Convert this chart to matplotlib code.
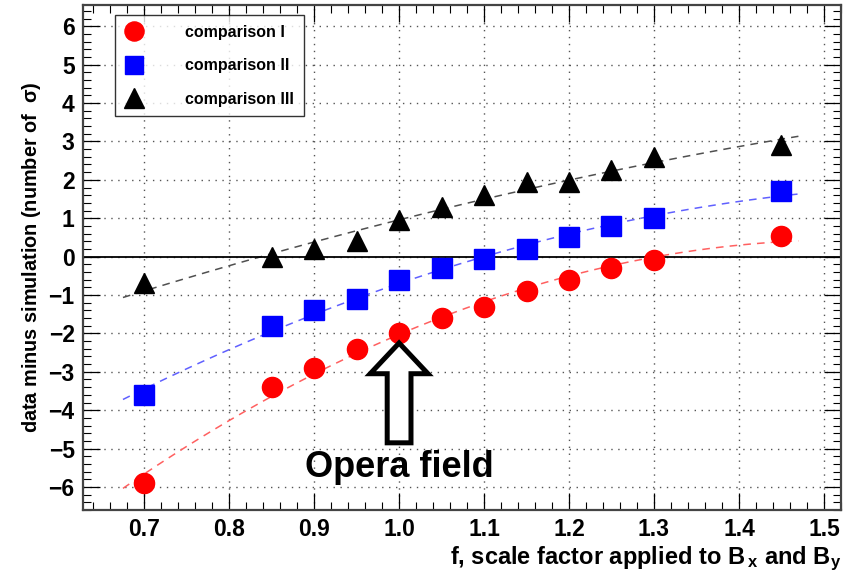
import numpy as np
import matplotlib
matplotlib.use("Agg")
import matplotlib.pyplot as plt
from matplotlib.ticker import MultipleLocator
from matplotlib.patches import FancyArrow

plt.rcParams['font.family'] = ['Liberation Sans', 'DejaVu Sans']
plt.rcParams['mathtext.fontset'] = 'custom'
plt.rcParams['mathtext.rm'] = 'Liberation Sans:bold'
plt.rcParams['mathtext.it'] = 'Liberation Sans:bold'
plt.rcParams['mathtext.bf'] = 'Liberation Sans:bold'

# scale factor f
f_vals = [0.70, 0.85, 0.90, 0.95, 1.00, 1.05, 1.10, 1.15, 1.20, 1.25, 1.30, 1.45]

# data minus simulation, in sigma
comp1 = [-5.9, -3.4, -2.9, -2.4, -2.0, -1.6, -1.3, -0.9, -0.6, -0.3, -0.1, 0.55]
comp2 = [-3.6, -1.8, -1.4, -1.1, -0.6, -0.3, -0.05, 0.2, 0.5, 0.8, 1.0, 1.7]
comp3 = [-0.7, 0.0, 0.2, 0.4, 0.95, 1.3, 1.6, 1.95, 1.95, 2.25, 2.6, 2.9]

labels = ['comparison I', 'comparison II', 'comparison III']
fit_range = (0.675, 1.47)

fig = plt.figure(figsize=(8.43, 5.74), dpi=100)
ax = fig.add_axes([0.0985, 0.1115, 0.899, 0.8795])

series = [
    (comp1, 'o', 'red', '#ff6060', labels[0], 14.5),
    (comp2, 's', 'blue', '#6060ff', labels[1], 14),
    (comp3, '^', 'black', '#505050', labels[2], 14.5),
]

fx = np.linspace(fit_range[0], fit_range[1], 100)
handles = []
for vals, mk, col, fitcol, lab, ms in series:
    # quadratic fit through the points, as in the original plot
    coef = np.polyfit(f_vals, vals, 2)
    ax.plot(fx, np.polyval(coef, fx), ls=(0, (5, 4)), color=fitcol, lw=1.1, zorder=2)
    h, = ax.plot(f_vals, vals, ls='none', marker=mk, color=col, ms=ms,
                 mec=col, label=lab, zorder=3)
    handles.append(h)

ax.axhline(0, color='black', lw=1.3, zorder=2)

ax.set_xlim(0.628, 1.52)
ax.set_ylim(-6.6, 6.55)
ax.xaxis.set_minor_locator(MultipleLocator(0.02))
ax.yaxis.set_minor_locator(MultipleLocator(0.2))
ax.set_xticks(np.arange(0.7, 1.51, 0.1))
ax.set_xticklabels(['0.7', '0.8', '0.9', '1.0', '1.1', '1.2', '1.3', '1.4', '1.5'])
ax.set_yticks(np.arange(-6, 7, 1))
ax.set_yticklabels([str(v).replace('-', '\u2212') for v in range(-6, 7)])

ax.grid(True, which='major', ls=(0, (1, 4)), color='#555555', lw=1.0)
ax.tick_params(which='both', direction='in', top=True, right=True, labelsize=16.5)
ax.tick_params(which='major', length=12, width=0.9)
ax.tick_params(which='minor', length=6, width=0.8)
ax.tick_params(axis='x', pad=6)
ax.tick_params(axis='y', pad=6)
for lbl in ax.get_xticklabels() + ax.get_yticklabels():
    lbl.set_fontweight('bold')
for sp in ax.spines.values():
    sp.set_linewidth(1.6)
    sp.set_color('#444444')

ax.set_xlabel(r'f, scale factor applied to B$\,_{x}$ and B$_{y}$',
              fontsize=17, fontweight='bold', loc='right', labelpad=2)
ax.set_ylabel(r'data minus simulation (number of  $\sigma$)', fontsize=14.3,
              fontweight='bold', labelpad=4)

leg = ax.legend(handles=handles, loc='upper left', bbox_to_anchor=(0.042, 0.98),
                borderaxespad=0, frameon=True, fancybox=False, edgecolor='black',
                prop={'weight': 'bold', 'size': 11.5}, handletextpad=2.6,
                labelspacing=1.15, borderpad=0.6, handlelength=1.2, markerscale=0.95)
leg.get_frame().set_linewidth(1.0)

# hollow arrow pointing at the Opera field point
arr = FancyArrow(1.0, -4.85, 0, 2.6, width=0.028, head_width=0.068, head_length=0.8,
                 length_includes_head=True, facecolor='white', edgecolor='black',
                 lw=3.6, zorder=4)
ax.add_patch(arr)
ax.text(1.0, -5.73, 'Opera field', ha='center', va='baseline', fontsize=26,
        fontweight='bold', zorder=5)

fig.savefig('out.png', dpi=100)
